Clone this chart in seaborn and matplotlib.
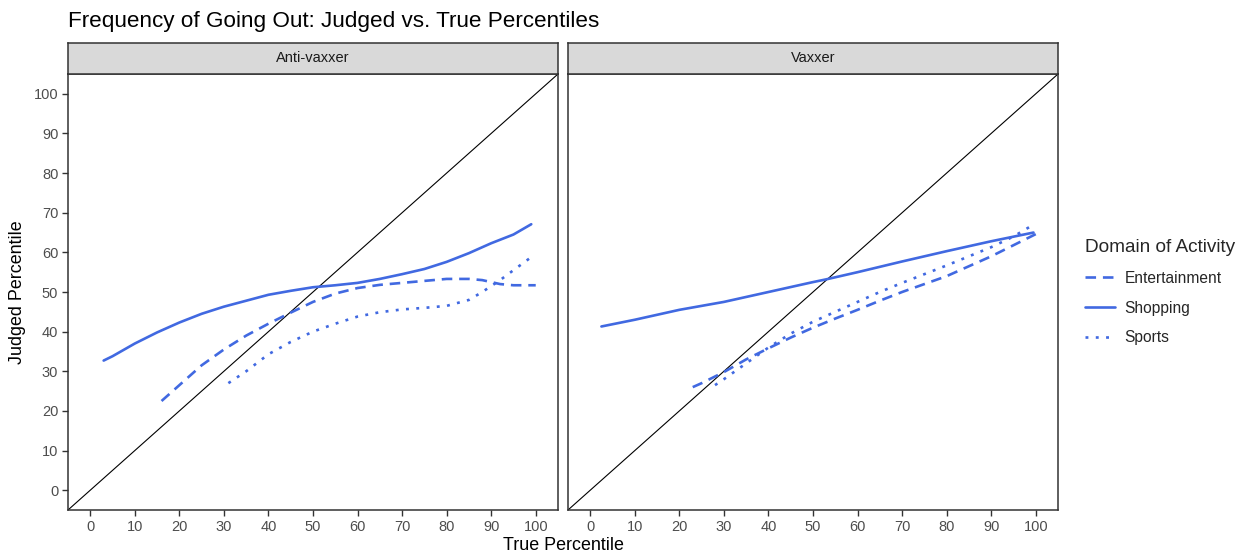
import matplotlib
matplotlib.use("Agg")
import matplotlib.pyplot as plt
from matplotlib.lines import Line2D
import seaborn as sns
import pandas as pd

sns.set_theme(style="white")
plt.rcParams['font.family'] = ['Liberation Sans', 'DejaVu Sans']

title = "Frequency of Going Out: Judged vs. True Percentiles"
groups = ["Anti-vaxxer", "Vaxxer"]
domains = ["Entertainment", "Shopping", "Sports"]
x_ticks = [0, 10, 20, 30, 40, 50, 60, 70, 80, 90, 100]
y_ticks = [0, 10, 20, 30, 40, 50, 60, 70, 80, 90, 100]

# Anti-vaxxer
anti_shop_x = [3, 5, 10, 15, 20, 25, 30, 35, 40, 45, 50, 55, 60, 65, 70, 75, 80, 85, 90, 95, 99]
anti_shop_y = [32.7, 33.8, 37.0, 39.8, 42.3, 44.5, 46.3, 47.8, 49.3, 50.3, 51.2, 51.7, 52.3, 53.3, 54.5, 55.8, 57.6, 59.8, 62.3, 64.5, 67.1]
anti_ent_x = [16, 20, 25, 30, 35, 40, 45, 50, 55, 60, 65, 70, 75, 80, 85, 88, 90, 92, 95, 100]
anti_ent_y = [22.5, 26.5, 31.5, 35.5, 39.0, 42.0, 44.8, 47.5, 49.6, 51.0, 51.8, 52.3, 52.8, 53.3, 53.3, 53.0, 52.5, 52.0, 51.7, 51.7]
anti_spo_x = [31, 35, 40, 45, 50, 55, 60, 65, 70, 75, 80, 85, 88, 90, 92, 95, 99]
anti_spo_y = [27.0, 30.0, 34.3, 37.4, 40.0, 42.0, 43.8, 44.9, 45.6, 46.0, 46.5, 48.0, 50.0, 51.5, 53.0, 55.5, 58.8]

# Vaxxer
vax_shop_x = [2.5, 10, 20, 30, 40, 50, 53, 60, 70, 80, 90, 99.5]
vax_shop_y = [41.3, 43.0, 45.5, 47.5, 50.0, 52.5, 53.2, 55.0, 57.7, 60.3, 62.8, 65.0]
vax_ent_x = [23, 25, 30, 35, 40, 45, 50, 55, 60, 65, 70, 75, 80, 85, 90, 95, 100]
vax_ent_y = [26.0, 27.0, 29.8, 33.0, 35.8, 38.5, 41.0, 43.3, 45.5, 47.8, 50.0, 52.0, 54.0, 56.5, 59.0, 61.8, 64.6]
vax_spo_x = [28, 30, 35, 40, 45, 50, 55, 60, 65, 70, 75, 80, 85, 90, 95, 99.5]
vax_spo_y = [26.5, 28.0, 32.0, 36.0, 39.5, 42.5, 45.0, 47.5, 50.0, 52.3, 54.5, 56.7, 59.0, 61.3, 64.0, 67.0]

series = {
    ("Anti-vaxxer", "Entertainment"): (anti_ent_x, anti_ent_y),
    ("Anti-vaxxer", "Shopping"): (anti_shop_x, anti_shop_y),
    ("Anti-vaxxer", "Sports"): (anti_spo_x, anti_spo_y),
    ("Vaxxer", "Entertainment"): (vax_ent_x, vax_ent_y),
    ("Vaxxer", "Shopping"): (vax_shop_x, vax_shop_y),
    ("Vaxxer", "Sports"): (vax_spo_x, vax_spo_y),
}
rows = []
for (g, d), (xs, ys) in series.items():
    for xv, yv in zip(xs, ys):
        rows.append({"group": g, "domain": d, "true": xv, "judged": yv})
df = pd.DataFrame(rows)

LINE = "#4169E1"
LW = 1.9
dash_map = {"Entertainment": (4, 2.6), "Shopping": "", "Sports": (1.1, 2.8)}
BORDER = "#333333"
TICKC = "#4D4D4D"

W, H = 1241, 556
fig = plt.figure(figsize=(W / 100, H / 100), dpi=100)
fig.patch.set_facecolor("white")

def frac(x0, y_top, x1, y_bot):
    return [x0 / W, 1 - y_bot / H, (x1 - x0) / W, (y_bot - y_top) / H]

panels = [(68, 558), (568, 1058)]
for i, (g, (px0, px1)) in enumerate(zip(groups, panels)):
    ax = fig.add_axes(frac(px0, 74, px1, 510))
    sub = df[df.group == g]
    ax.axline((0, 0), slope=1, color="black", lw=0.8, zorder=1)
    sns.lineplot(data=sub, x="true", y="judged", style="domain",
                 style_order=domains, dashes=dash_map, color=LINE,
                 linewidth=LW, ax=ax, legend=False, estimator=None,
                 sort=True, zorder=3)
    ax.set_xlim(-5, 105)
    ax.set_ylim(-5, 105)
    ax.set_xticks(x_ticks)
    ax.set_xticklabels([str(t) for t in x_ticks])
    ax.set_yticks(y_ticks)
    ax.set_yticklabels([str(t) for t in y_ticks])
    ax.set_xlabel("")
    ax.set_ylabel("")
    ax.grid(False)
    for s in ax.spines.values():
        s.set_color(BORDER)
        s.set_linewidth(1.1)
    ax.tick_params(axis="both", which="both", length=4, width=1, color=BORDER,
                   labelcolor=TICKC, labelsize=10.5, pad=3,
                   bottom=True, left=(i == 0))
    if i > 0:
        ax.set_yticklabels([])
    # facet strip
    sax = fig.add_axes(frac(px0, 43, px1, 74))
    sax.set_facecolor("#D9D9D9")
    sax.set_xticks([])
    sax.set_yticks([])
    for s in sax.spines.values():
        s.set_color(BORDER)
        s.set_linewidth(1.1)
    sax.text(0.5, 0.5, g, ha="center", va="center", fontsize=10.5,
             color="#1A1A1A", transform=sax.transAxes)

fig.text(68 / W, 1 - 22 / H, title, ha="left", va="center", fontsize=16.2, color="black")
fig.text(563 / W, 1 - 546 / H, "True Percentile", ha="center", va="center", fontsize=12.9, color="black")
fig.text(18 / W, 1 - 292 / H, "Judged Percentile", ha="center", va="center", rotation=90, fontsize=12.9, color="black")

handles = []
for d in domains:
    h = Line2D([0], [0], color=LINE, lw=LW, linestyle="-")
    if dash_map[d]:
        h.set_dashes(dash_map[d])
    handles.append(h)
leg = fig.legend(handles, domains, title="Domain of Activity",
                 loc="upper left", bbox_to_anchor=(1085 / W, 1 - 239 / H),
                 frameon=False, fontsize=11.2, title_fontsize=13.7,
                 handlelength=1.95, handletextpad=0.6, labelspacing=0.95,
                 borderaxespad=0, borderpad=0)
leg._legend_box.align = "left"

fig.savefig("out.png", dpi=100, facecolor="white")
